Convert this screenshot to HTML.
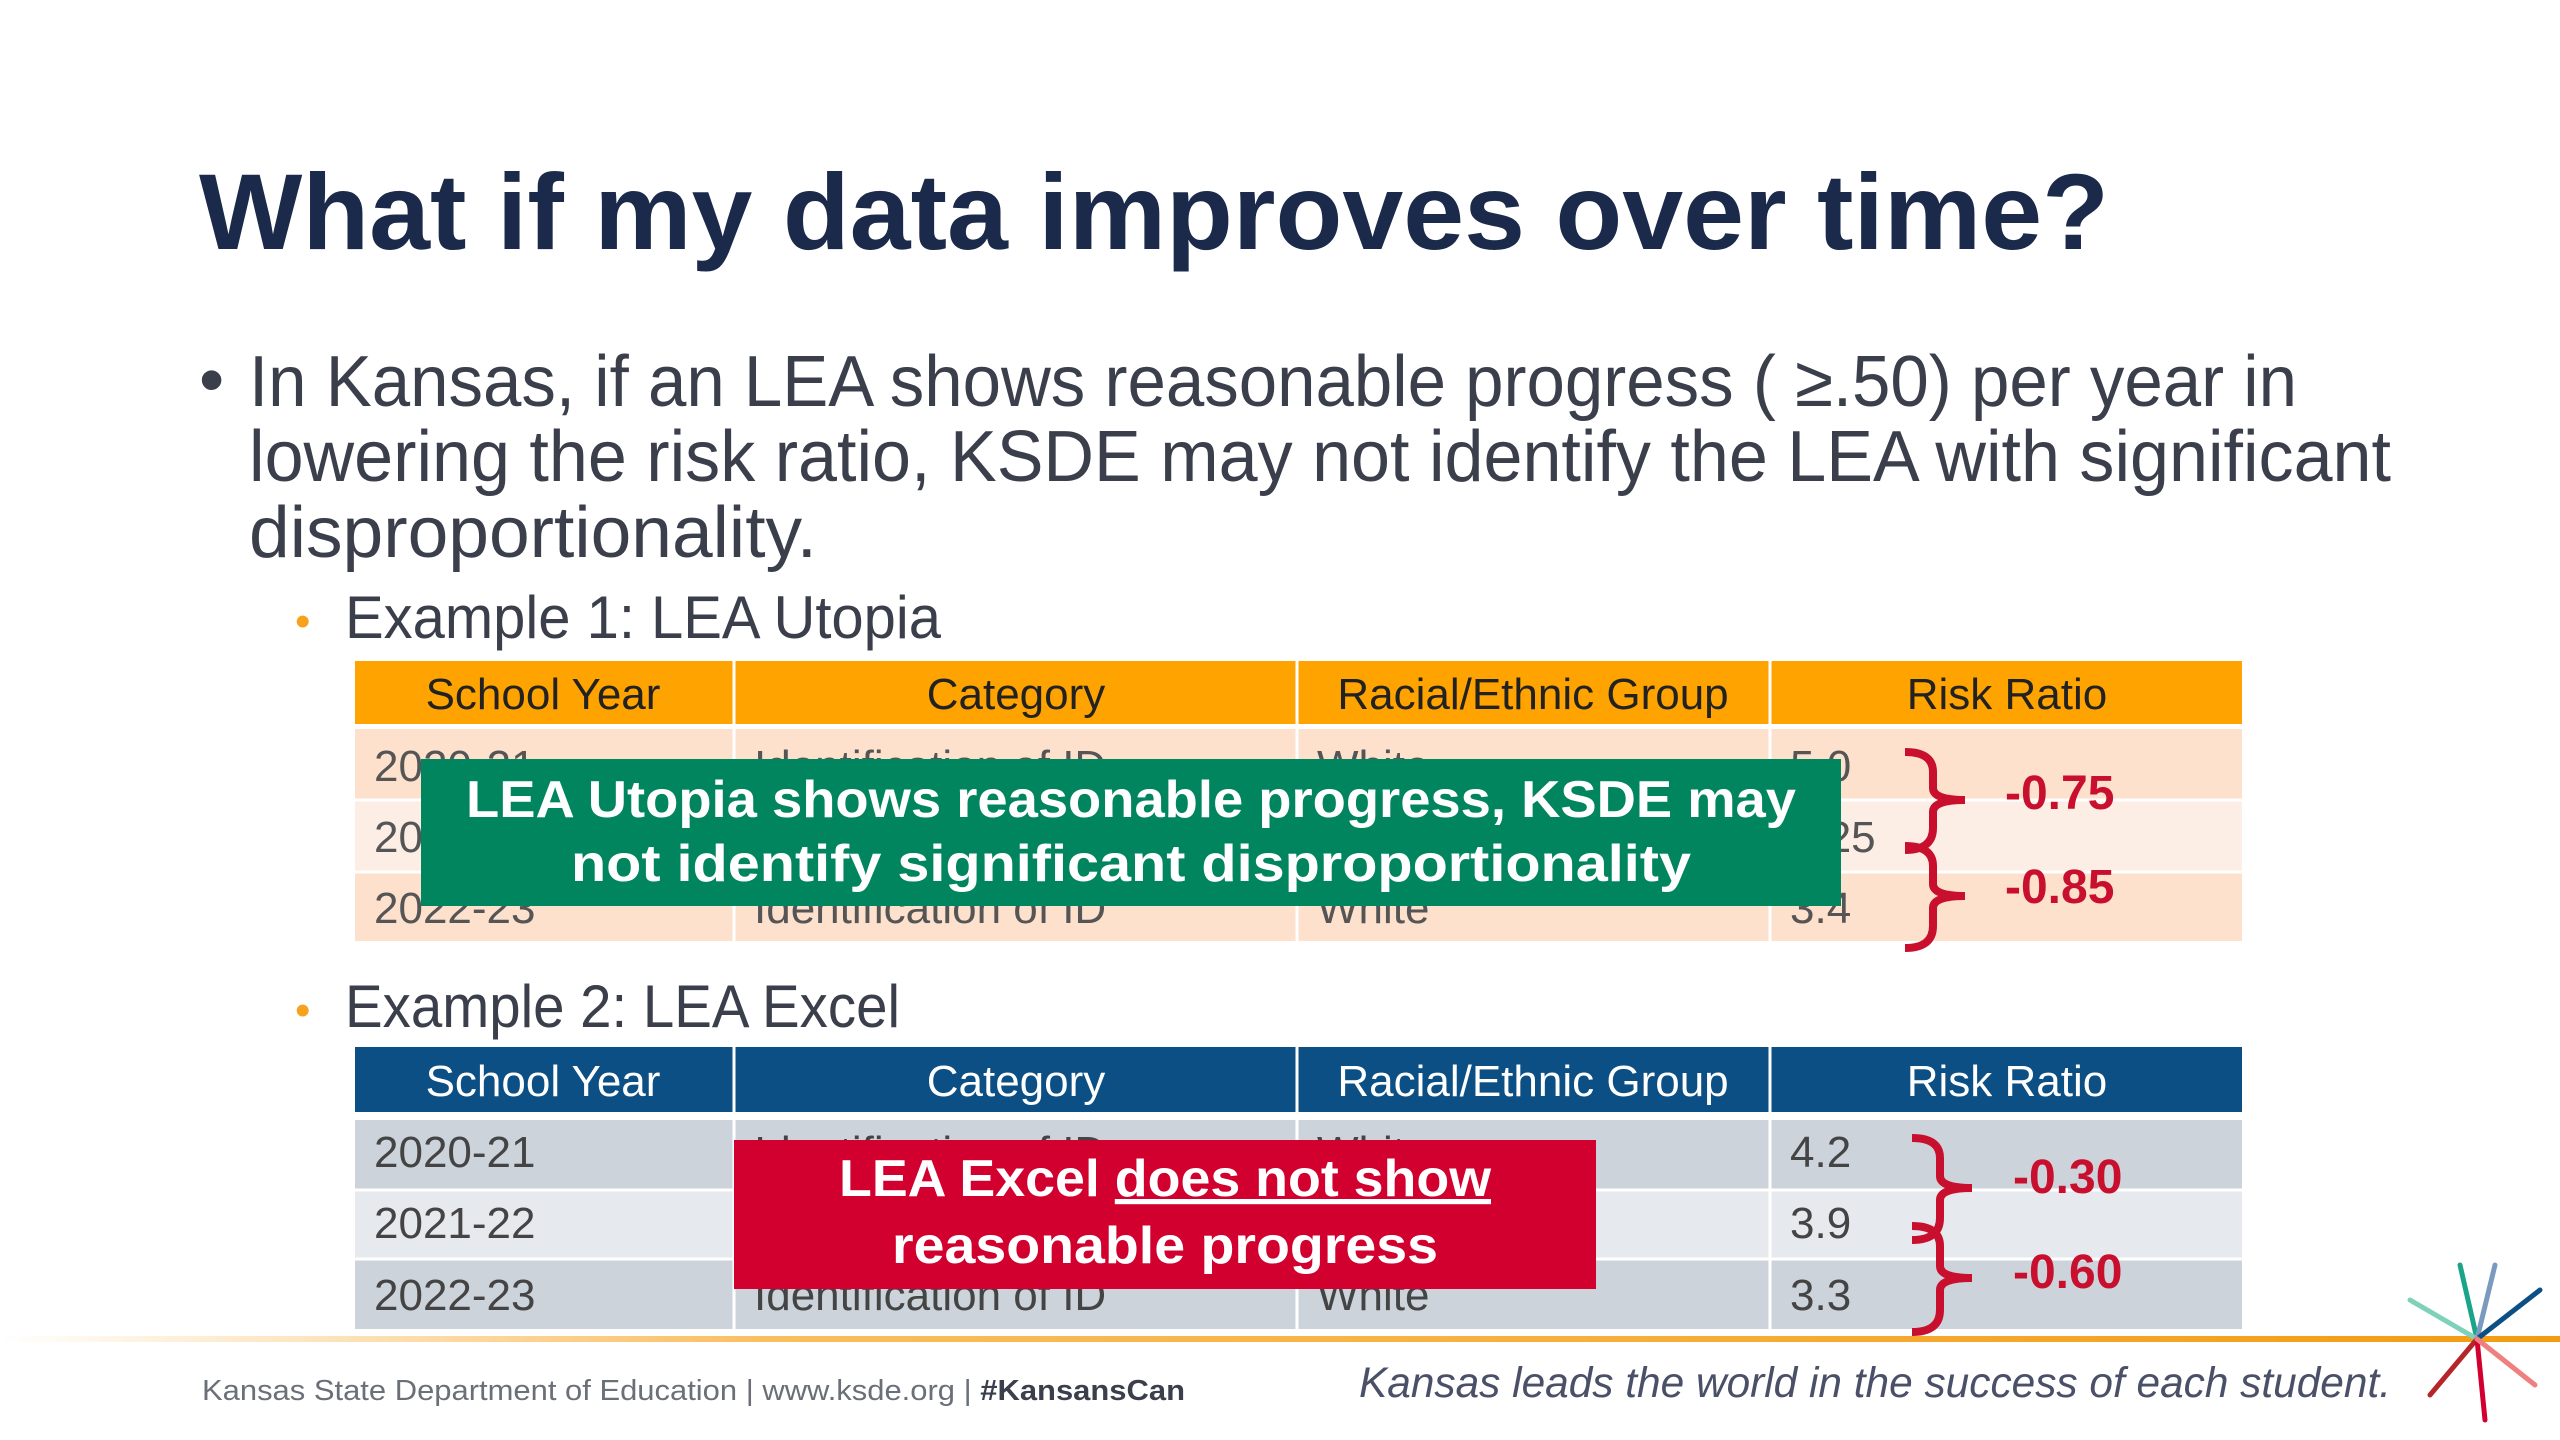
<!DOCTYPE html>
<html><head><meta charset="utf-8"><style>
html,body{margin:0;padding:0;background:#fff;}
svg{display:block;}
text{font-family:"Liberation Sans",sans-serif;}
</style></head><body>
<svg width="2560" height="1440" viewBox="0 0 2560 1440">
<defs>
<linearGradient id="og" x1="0" x2="1" y1="0" y2="0">
<stop offset="0" stop-color="#f7a21b" stop-opacity="0"/><stop offset="0.3" stop-color="#f7a21b" stop-opacity="0.7"/><stop offset="1" stop-color="#f39c12"/></linearGradient>
</defs>
<text x="199" y="249" font-size="108" font-weight="bold" fill="#1b2a4a" textLength="1910" lengthAdjust="spacingAndGlyphs">What if my data improves over time?</text>

<g fill="#3a3f4b" font-size="72">
<text x="199" y="404">•</text>
<text x="249" y="406" textLength="2048" lengthAdjust="spacingAndGlyphs">In Kansas, if an LEA shows reasonable progress ( ≥.50) per year in</text>
<text x="249" y="481" textLength="2142" lengthAdjust="spacingAndGlyphs">lowering the risk ratio, KSDE may not identify the LEA with significant</text>
<text x="249" y="557" textLength="568" lengthAdjust="spacingAndGlyphs">disproportionality.</text>
</g>

<text x="295" y="636" font-size="44" fill="#f7a21b">•</text>
<text x="345" y="638" font-size="60" fill="#3a3f4b" textLength="596" lengthAdjust="spacingAndGlyphs">Example 1: LEA Utopia</text>

<g>
<rect x="355" y="661" width="1887" height="63" fill="#ffa300"/>
<rect x="355" y="729" width="1887" height="71" fill="#fde1cd"/>
<rect x="355" y="800" width="1887" height="72" fill="#fdeee5"/>
<rect x="355" y="872" width="1887" height="69" fill="#fde1cd"/>
<g stroke="#fff" stroke-width="3"><line x1="734" y1="661" x2="734" y2="941"/><line x1="1297" y1="661" x2="1297" y2="941"/><line x1="1770" y1="661" x2="1770" y2="941"/><line x1="355" y1="800" x2="2242" y2="800"/><line x1="355" y1="872" x2="2242" y2="872"/></g>
<g font-size="44" fill="#222" text-anchor="middle">
<text x="543" y="709">School Year</text><text x="1016" y="709">Category</text><text x="1533" y="709">Racial/Ethnic Group</text><text x="2007" y="709">Risk Ratio</text></g>
<g font-size="44" fill="#555">
<text x="374" y="781">2020-21</text><text x="754" y="781">Identification of ID</text><text x="1317" y="781">White</text><text x="1790" y="781">5.0</text>
<text x="374" y="852">2021-22</text><text x="754" y="852">Identification of ID</text><text x="1317" y="852">White</text><text x="1790" y="852">4.25</text>
<text x="374" y="923">2022-23</text><text x="754" y="923">Identification of ID</text><text x="1317" y="923">White</text><text x="1790" y="923">3.4</text></g>
</g>
<g>
<rect x="421" y="759" width="1420" height="147" fill="#00855f"/>
<g fill="#fff" font-size="52" font-weight="bold" text-anchor="middle">
<text x="1131" y="817" textLength="1330" lengthAdjust="spacingAndGlyphs">LEA Utopia shows reasonable progress, KSDE may</text>
<text x="1131" y="881" textLength="1120" lengthAdjust="spacingAndGlyphs">not identify significant disproportionality</text></g>
</g>
<g fill="none" stroke="#c8102e" stroke-width="8">
<path d="M1905 752 q28 0 28 20 v16 q0 12 32 12 q-32 0 -32 12 v16 q0 22 -28 22"/>
<path d="M1905 846 q28 0 28 20 v18 q0 12 32 12 q-32 0 -32 12 v18 q0 22 -28 22"/>
</g>
<text x="2005" y="809" font-size="48" font-weight="bold" fill="#c8102e">-0.75</text>
<text x="2005" y="903" font-size="48" font-weight="bold" fill="#c8102e">-0.85</text>

<text x="295" y="1025" font-size="44" fill="#f7a21b">•</text>
<text x="345" y="1027" font-size="60" fill="#3a3f4b" textLength="555" lengthAdjust="spacingAndGlyphs">Example 2: LEA Excel</text>

<g>
<rect x="355" y="1047" width="1887" height="65" fill="#0b4f84"/>
<rect x="355" y="1120" width="1887" height="70" fill="#ccd3db"/>
<rect x="355" y="1190" width="1887" height="69" fill="#e6e9ed"/>
<rect x="355" y="1259" width="1887" height="70" fill="#ccd3db"/>
<g stroke="#fff" stroke-width="3"><line x1="734" y1="1047" x2="734" y2="1329"/><line x1="1297" y1="1047" x2="1297" y2="1329"/><line x1="1770" y1="1047" x2="1770" y2="1329"/><line x1="355" y1="1190" x2="2242" y2="1190"/><line x1="355" y1="1259" x2="2242" y2="1259"/></g>
<g font-size="44" fill="#fff" text-anchor="middle">
<text x="543" y="1096">School Year</text><text x="1016" y="1096">Category</text><text x="1533" y="1096">Racial/Ethnic Group</text><text x="2007" y="1096">Risk Ratio</text></g>
<g font-size="44" fill="#444">
<text x="374" y="1167">2020-21</text><text x="754" y="1167">Identification of ID</text><text x="1317" y="1167">White</text><text x="1790" y="1167">4.2</text>
<text x="374" y="1238">2021-22</text><text x="754" y="1238">Identification of ID</text><text x="1317" y="1238">White</text><text x="1790" y="1238">3.9</text>
<text x="374" y="1310">2022-23</text><text x="754" y="1310">Identification of ID</text><text x="1317" y="1310">White</text><text x="1790" y="1310">3.3</text></g>
</g>
<g>
<rect x="734" y="1140" width="862" height="149" fill="#d2002e"/>
<g fill="#fff" font-size="52" font-weight="bold" text-anchor="middle">
<text x="1165" y="1196" textLength="652" lengthAdjust="spacingAndGlyphs">LEA Excel <tspan text-decoration="underline">does not show</tspan></text>
<text x="1165" y="1263" textLength="546" lengthAdjust="spacingAndGlyphs">reasonable progress</text></g>
</g>
<g fill="none" stroke="#c8102e" stroke-width="8">
<path d="M1912 1138 q28 0 28 20 v18 q0 12 32 12 q-32 0 -32 12 v18 q0 22 -28 22"/>
<path d="M1912 1226 q28 0 28 20 v20 q0 12 32 12 q-32 0 -32 12 v20 q0 22 -28 22"/>
</g>
<text x="2013" y="1193" font-size="48" font-weight="bold" fill="#c8102e">-0.30</text>
<text x="2013" y="1288" font-size="48" font-weight="bold" fill="#c8102e">-0.60</text>

<rect x="0" y="1336" width="2560" height="6" fill="url(#og)"/>
<text x="202" y="1400" font-size="29" fill="#6b6f78" textLength="983" lengthAdjust="spacingAndGlyphs">Kansas State Department of Education | www.ksde.org | <tspan font-weight="bold" fill="#3a3f4b">#KansansCan</tspan></text>
<text x="1359" y="1397" font-size="43" font-style="italic" fill="#4a5068" textLength="1032" lengthAdjust="spacingAndGlyphs">Kansas leads the world in the success of each student.</text>
<g stroke-width="5" stroke-linecap="round">
<line x1="2477" y1="1339" x2="2460" y2="1265" stroke="#1aa58a"/>
<line x1="2477" y1="1339" x2="2495" y2="1265" stroke="#7a9ac0"/>
<line x1="2477" y1="1339" x2="2540" y2="1290" stroke="#0b4f84"/>
<line x1="2477" y1="1339" x2="2410" y2="1300" stroke="#7fd1b9"/>
<line x1="2477" y1="1339" x2="2430" y2="1395" stroke="#b5262a"/>
<line x1="2477" y1="1339" x2="2485" y2="1420" stroke="#d2002e"/>
<line x1="2477" y1="1339" x2="2535" y2="1385" stroke="#f08080"/>
</g>
</svg>
</body></html>
